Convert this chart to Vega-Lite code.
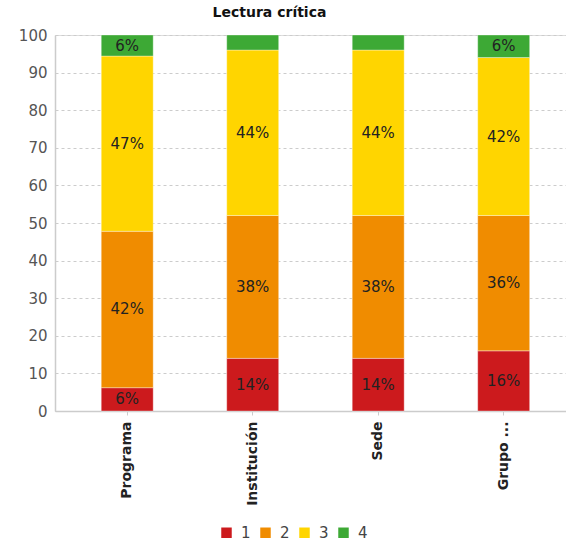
{
  "$schema": "https://vega.github.io/schema/vega-lite/v6.json",
  "autosize": {"type": "none"},
  "width": 511,
  "height": 376,
  "padding": {"left": 55, "top": 35, "right": 0, "bottom": 130},
  "background": "white",
  "title": {
    "text": "Lectura crítica",
    "font": "DejaVu Sans",
    "fontSize": 14,
    "fontWeight": "bold",
    "color": "#111",
    "anchor": "middle",
    "dx": -41,
    "offset": 8
  },
  "data": {
    "values": [
      {"grupo": "Programa", "nivel": "1", "v": 6.2, "label": "6%"},
      {"grupo": "Programa", "nivel": "2", "v": 41.6, "label": "42%"},
      {"grupo": "Programa", "nivel": "3", "v": 46.6, "label": "47%"},
      {"grupo": "Programa", "nivel": "4", "v": 5.6, "label": "6%"},
      {"grupo": "Institución", "nivel": "1", "v": 14, "label": "14%"},
      {"grupo": "Institución", "nivel": "2", "v": 38, "label": "38%"},
      {"grupo": "Institución", "nivel": "3", "v": 44, "label": "44%"},
      {"grupo": "Institución", "nivel": "4", "v": 4, "label": "4%"},
      {"grupo": "Sede", "nivel": "1", "v": 14, "label": "14%"},
      {"grupo": "Sede", "nivel": "2", "v": 38, "label": "38%"},
      {"grupo": "Sede", "nivel": "3", "v": 44, "label": "44%"},
      {"grupo": "Sede", "nivel": "4", "v": 4, "label": "4%"},
      {"grupo": "Grupo ...", "nivel": "1", "v": 16, "label": "16%"},
      {"grupo": "Grupo ...", "nivel": "2", "v": 36, "label": "36%"},
      {"grupo": "Grupo ...", "nivel": "3", "v": 42, "label": "42%"},
      {"grupo": "Grupo ...", "nivel": "4", "v": 6, "label": "6%"}
    ]
  },
  "encoding": {
    "x": {
      "field": "grupo",
      "type": "nominal",
      "sort": null,
      "title": null,
      "scale": {"paddingInner": 0.586, "paddingOuter": 0.329, "align": 0.56},
      "axis": {
        "labelAngle": -90,
        "labelFont": "DejaVu Sans",
        "labelFontSize": 14,
        "labelFontWeight": "bold",
        "labelColor": "#222",
        "labelPadding": 6,
        "domainColor": "#cccccc",
        "domainWidth": 1.5,
        "tickColor": "#cccccc",
        "tickSize": 4,
        "grid": false
      }
    },
    "y": {
      "field": "v",
      "type": "quantitative",
      "stack": "zero",
      "title": null,
      "scale": {"domain": [0, 100], "nice": false},
      "axis": {
        "values": [0, 10, 20, 30, 40, 50, 60, 70, 80, 90, 100],
        "labelFont": "DejaVu Sans",
        "labelFontSize": 15,
        "labelColor": "#555",
        "labelPadding": 8,
        "domainColor": "#cccccc",
        "domainWidth": 1.5,
        "ticks": false,
        "gridColor": "#cccccc",
        "gridDash": [3, 3],
        "gridWidth": 1
      }
    },
    "order": {"field": "nivel", "sort": "ascending"}
  },
  "layer": [
    {
      "mark": {"type": "bar", "stroke": "white", "strokeWidth": 1, "strokeOpacity": 0.35},
      "encoding": {
        "color": {
          "field": "nivel",
          "type": "nominal",
          "title": null,
          "scale": {"domain": ["1", "2", "3", "4"], "range": ["#cc1a1d", "#f08c00", "#ffd500", "#3da935"]},
          "legend": {
            "orient": "none",
            "direction": "horizontal",
            "legendX": 164,
            "legendY": 490,
            "symbolType": "square",
            "symbolSize": 110,
            "symbolStrokeWidth": 0,
            "labelFont": "DejaVu Sans",
            "labelFontSize": 15,
            "labelColor": "#444",
            "labelOffset": 7,
            "columnPadding": 7
          }
        }
      }
    },
    {
      "transform": [{"filter": "datum.v >= 5"}],
      "mark": {"type": "text", "font": "DejaVu Sans", "fontSize": 15, "color": "#222", "baseline": "middle", "align": "center"},
      "encoding": {
        "y": {"field": "v", "type": "quantitative", "stack": "zero", "bandPosition": 0.5},
        "text": {"field": "label"}
      }
    }
  ]
}
